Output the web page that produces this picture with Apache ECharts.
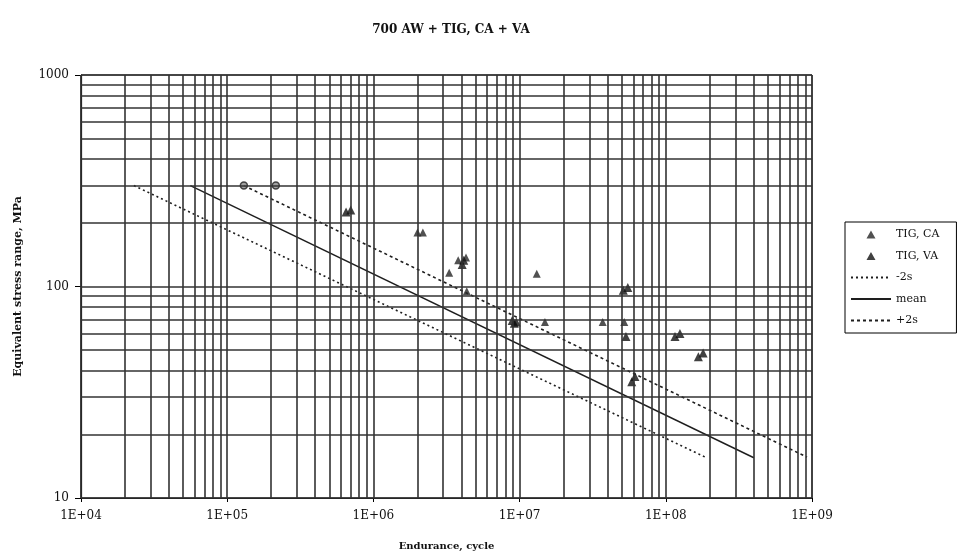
<!DOCTYPE html>
<html>
<head>
<meta charset="utf-8">
<script src="https://cdn.jsdelivr.net/npm/echarts@6/dist/echarts.min.js"></script>
<style>
  html, body { margin: 0; padding: 0; background: #fff; }
  #chart { width: 958px; height: 557px; }
</style>
</head>
<body>
<div id="chart"></div>
<script>
// Fatigue test results: endurance (cycles) vs equivalent stress range (MPa)
const titleText = '700 AW + TIG, CA + VA';
const xName = 'Endurance, cycle';
const yName = 'Equivalent stress range, MPa';

// Constant-amplitude specimens
const caPoints = [
  [2.0e6, 180], [2.18e6, 180], [3.3e6, 116], [4.35e6, 95],
  [1.31e7, 115], [1.49e7, 68], [3.7e7, 68], [5.2e7, 68],
  [3.8e6, 133], [4.3e6, 137]
];
// Specimens at the top stress level (open markers)
const caOpenPoints = [[1.3e5, 300], [2.15e5, 300]];

// Variable-amplitude specimens
const vaPoints = [
  [6.5e5, 225], [7.0e5, 230],
  [4.05e6, 127], [4.15e6, 133],
  [8.9e6, 69], [9.2e6, 67], [9.5e6, 68],
  [5.34e7, 58], [5.12e7, 96], [5.5e7, 99],
  [1.156e8, 58], [1.25e8, 60],
  [1.67e8, 46.6], [1.8e8, 48.5],
  [5.85e7, 35.5], [6.15e7, 37.5]
];

// S-N curves: mean and ±2 standard deviations
const minus2sLine = [[2.3e4, 300], [1.9e8, 15.5]];
const meanLine = [[5.6e4, 300], [4.0e8, 15.5]];
const plus2sLine = [[1.3e5, 300], [9.25e8, 15.6]];

// Axis ranges and log grid
const xDecades = [1e4, 1e5, 1e6, 1e7, 1e8];
const xMax = 1e9;
const yDecades = [10, 100];
const yMax = 1000;
const minorSteps = [1, 2, 3, 4, 5, 6, 7, 8, 9];

const font = 'DejaVu Serif';
const ink = '#1e1e1e';

const gridLines = [];
xDecades.forEach(d => minorSteps.forEach(k => gridLines.push({ xAxis: d * k })));
gridLines.push({ xAxis: xMax });
yDecades.forEach(d => minorSteps.forEach(k => gridLines.push({ yAxis: d * k })));
gridLines.push({ yAxis: yMax });

// legend triangle centred in a wide icon box so it keeps its shape
const legendTriangle = 'path://M0,4L0.01,4M40,4L40.01,4M20,0L24.5,8L15.5,8Z';

const chart = echarts.init(document.getElementById('chart'), null, { renderer: 'canvas' });

const option = {
  backgroundColor: '#ffffff',
  animation: false,
  title: {
    text: titleText,
    left: 446,
    textAlign: 'center',
    top: 19,
    textStyle: { fontFamily: font, fontSize: 12, fontWeight: 'bold', color: '#111' }
  },
  legend: {
    orient: 'vertical',
    left: 845,
    top: 222,
    padding: [7, 17, 7, 5],
    itemGap: 10.5,
    itemWidth: 40,
    itemHeight: 8,
    borderColor: '#000',
    borderWidth: 1,
    backgroundColor: '#fff',
    textStyle: { fontFamily: font, fontSize: 11, color: '#111' },
    data: [
      { name: 'TIG, CA', icon: legendTriangle },
      { name: 'TIG, VA', icon: legendTriangle },
      { name: '-2s', itemStyle: { opacity: 0 } },
      { name: 'mean', itemStyle: { opacity: 0 } },
      { name: '+2s', itemStyle: { opacity: 0 } }
    ]
  },
  grid: {
    left: 81, top: 75, width: 731, height: 423,
    show: true, borderColor: '#000', borderWidth: 1
  },
  xAxis: {
    type: 'log',
    logBase: 10,
    min: xDecades[0],
    max: xMax,
    name: xName,
    nameLocation: 'middle',
    nameGap: 43,
    nameTextStyle: { fontFamily: font, fontSize: 10, fontWeight: 'bold', color: '#111' },
    axisLine: { show: true, onZero: false, lineStyle: { color: '#000', width: 1.2 } },
    axisTick: { show: true, length: 4, lineStyle: { color: '#000' } },
    axisLabel: {
      fontFamily: font, fontSize: 12, color: '#111', margin: 12,
      formatter: v => {
        const e = Math.round(Math.log10(v));
        return '1E+' + (e < 10 ? '0' + e : e);
      }
    },
    splitLine: { show: false }
  },
  yAxis: {
    type: 'log',
    logBase: 10,
    min: yDecades[0],
    max: yMax,
    name: yName,
    nameLocation: 'middle',
    nameGap: 57,
    nameTextStyle: { fontFamily: font, fontSize: 11, fontWeight: 'bold', color: '#111' },
    axisLine: { show: true, onZero: false, lineStyle: { color: '#000', width: 1.2 } },
    axisTick: { show: true, length: 6, lineStyle: { color: '#000' } },
    axisLabel: {
      fontFamily: font, fontSize: 12, color: '#111', margin: 12,
      formatter: v => String(Math.round(v))
    },
    splitLine: { show: false }
  },
  series: [
    {
      // log grid lines
      type: 'line',
      data: [],
      z: 1,
      silent: true,
      markLine: {
        silent: true,
        symbol: 'none',
        label: { show: false },
        animation: false,
        lineStyle: { color: '#333', width: 1.6, type: 'solid' },
        data: gridLines
      }
    },
    {
      name: '-2s',
      type: 'line',
      data: minus2sLine,
      symbol: 'none',
      z: 3,
      itemStyle: { color: ink },
      lineStyle: { color: ink, width: 1.6, type: [2, 3] }
    },
    {
      name: 'mean',
      type: 'line',
      data: meanLine,
      symbol: 'none',
      z: 3,
      itemStyle: { color: ink },
      lineStyle: { color: ink, width: 1.4, type: 'solid' }
    },
    {
      name: '+2s',
      type: 'line',
      data: plus2sLine,
      symbol: 'none',
      z: 3,
      itemStyle: { color: ink },
      lineStyle: { color: ink, width: 1.6, type: [3, 3] }
    },
    {
      name: 'TIG, CA',
      type: 'scatter',
      z: 4,
      symbol: 'triangle',
      symbolSize: 8,
      itemStyle: { color: '#262626' },
      data: caPoints.map(p => ({ value: p })).concat(
        caOpenPoints.map(p => ({
          value: p, symbol: 'circle', symbolSize: 7,
          itemStyle: { color: '#8a8a8a', borderColor: '#222', borderWidth: 1.5 }
        }))
      )
    },
    {
      name: 'TIG, VA',
      type: 'scatter',
      z: 4,
      symbol: 'triangle',
      symbolSize: 9,
      itemStyle: { color: '#111' },
      data: vaPoints
    }
  ]
};

chart.setOption(option);
</script>
</body>
</html>
